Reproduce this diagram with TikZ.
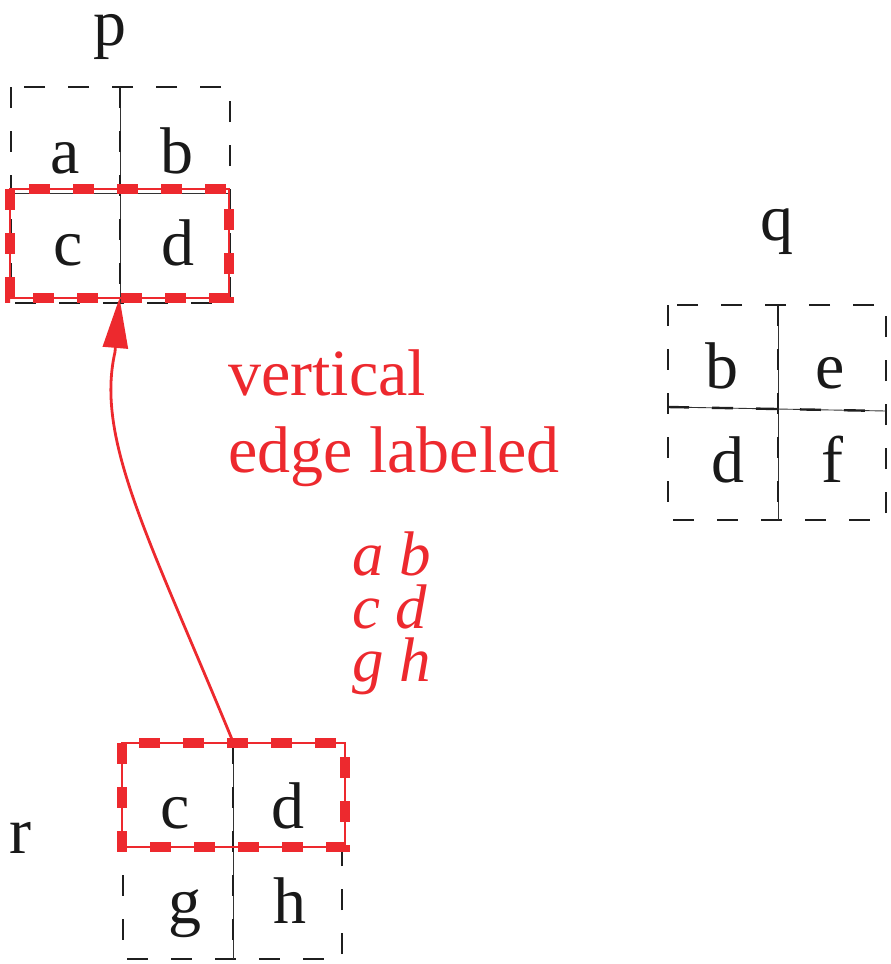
\documentclass[tikz,border=0pt]{standalone}
\usepackage{fontspec}
\setmainfont{Liberation Serif}
\usetikzlibrary{arrows.meta}
\definecolor{myred}{RGB}{237,41,46}
\begin{document}
\begin{tikzpicture}[x=1pt,y=-1pt,
  bdash/.style={draw=black!88,line width=2.4pt,dash pattern=on 21pt off 23pt},
  thinln/.style={draw=black!80,line width=0.9pt},
  rdash/.style={draw=myred,line width=10pt,dash pattern=on 21pt off 23pt},
  rbox/.style={draw=myred,line width=1.8pt,inner sep=0pt,outer sep=0pt},
  lbl/.style={anchor=base,inner sep=0pt,text=black!90,font=\rmfamily\fontsize{66}{70}\selectfont},
  rtext/.style={anchor=base west,inner sep=0pt,text=myred,font=\rmfamily\fontsize{66}{70}\selectfont},
  itext/.style={anchor=base west,inner sep=0pt,text height=38pt,text depth=13pt,text=myred,font=\rmfamily\fontsize{63}{66}\selectfont\itshape},
  edgearrow/.style={draw=myred,line width=2.8pt,-{Triangle[length=50pt,width=25pt]}}
]
\useasboundingbox (0,0) rectangle (891,964);

% ---- box p ----
\draw[bdash] (11,87) rectangle (230,303);
\draw[thinln] (120,87) -- (120,303);
\draw[bdash] (120,87) -- (120,303);
\draw[thinln] (11,193) -- (230,193);
\node[lbl] (pa) at (65,173) {a};
\node[lbl] (pb) at (177,173) {b};
\node[lbl] (pc) at (68,265) {c};
\node[lbl] (pd) at (178,265) {d};
\node[lbl,text height=32pt] (plabel) at (110,45) {p};
\node[rbox,minimum width=219pt,minimum height=109pt] (pred) at (119.5,243.5) {};
\draw[rdash] (pred.north west) rectangle (pred.south east);

% ---- box q ----
\draw[bdash] (668,305) rectangle (886,520);
\draw[thinln] (778,305) -- (778,520);
\draw[bdash] (778,305) -- (778,520);
\draw[thinln] (668,407) -- (886,411);
\draw[bdash] (668,407) -- (886,411);
\node[lbl] (qb) at (722,388) {b};
\node[lbl] (qe) at (830,388) {e};
\node[lbl] (qd) at (728,482) {d};
\node[lbl] (qf) at (832,482) {f};
\node[lbl] (qlabel) at (777,240) {q};

% ---- box r ----
\draw[bdash] (123,743) rectangle (342,959);
\draw[thinln] (233,743) -- (233,959);
\draw[bdash] (233,743) -- (233,959);
\draw[thinln] (123,847) -- (342,847);
\node[lbl] (rc) at (175,828) {c};
\node[lbl] (rd) at (288,828) {d};
\node[lbl] (rg) at (185,923) {g};
\node[lbl] (rh) at (290,923) {h};
\node[lbl] (rlabel) at (20,853) {r};
\node[rbox,minimum width=223pt,minimum height=104pt] (rred) at (233.5,795) {};
\draw[rdash] (rred.north west) rectangle (rred.south east);

% ---- vertical edge ----
\draw[edgearrow] (rred.north) .. controls (150,540) and (95,440) .. (115,352) -- (pred.south);

\node[rtext] (t1) at (228,395) {vertical};
\node[rtext] (t2) at (228,472) {edge labeled};
\node[itext] (t3) at (352,575) {a b};
\node[itext] (t4) at (352,628) {c d};
\node[itext] (t5) at (352,681) {g h};
\end{tikzpicture}
\end{document}
